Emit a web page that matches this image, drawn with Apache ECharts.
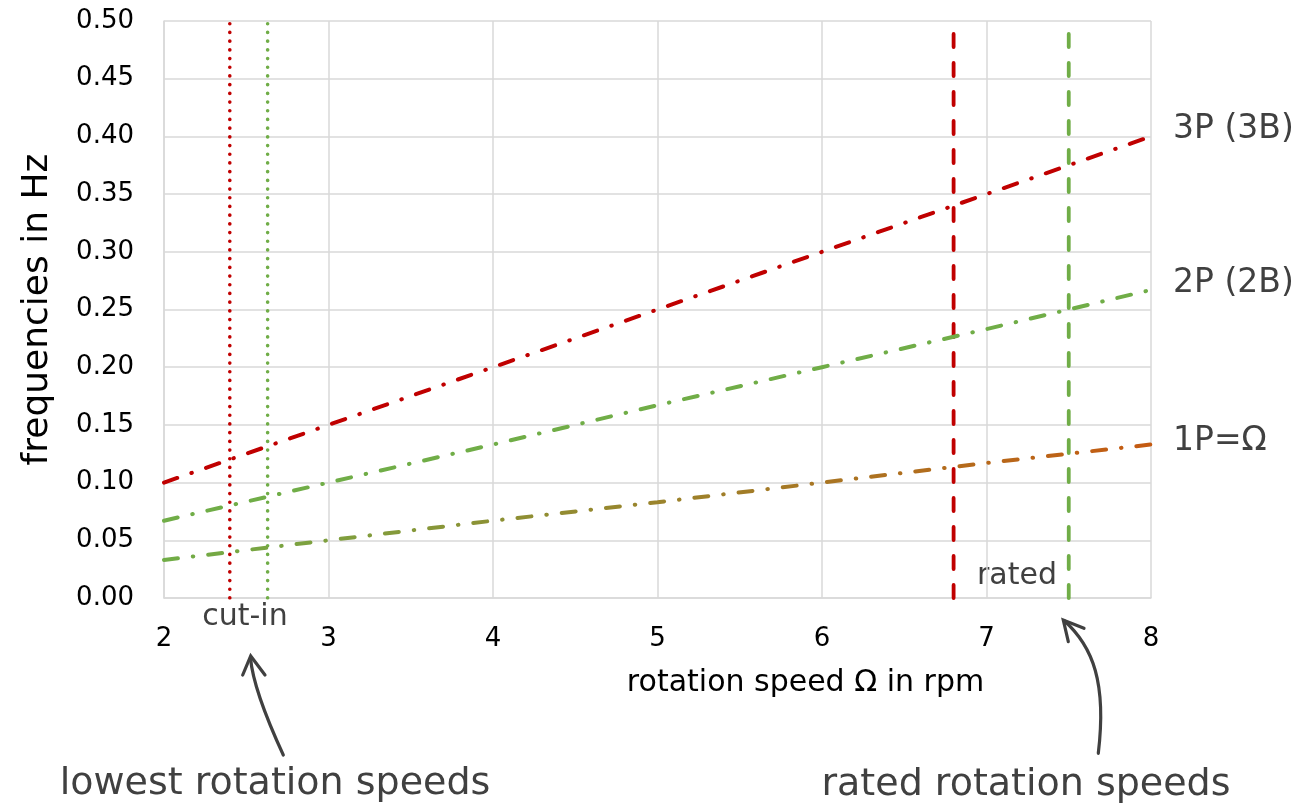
<!DOCTYPE html>
<html>
<head>
<meta charset="utf-8">
<script src="https://cdn.jsdelivr.net/npm/echarts@6/dist/echarts.min.js"></script>
<style>html,body{margin:0;padding:0;background:#fff}#c{width:1304px;height:810px}</style>
</head>
<body>
<div id="c"></div>
<script>
// rotation speed Omega in rpm
var speeds = [2, 3, 4, 5, 6, 7, 8];
// excitation frequencies in Hz
var freq1P = [0.033, 0.050, 0.067, 0.083, 0.100, 0.117, 0.133];
var freq2P = [0.067, 0.100, 0.133, 0.167, 0.200, 0.233, 0.267];
var freq3P = [0.100, 0.150, 0.200, 0.250, 0.300, 0.350, 0.400];
// characteristic speeds (rpm)
var cutIn3P = 2.4;
var cutIn2P = 2.63;
var rated3P = 6.8;
var rated2P = 7.5;
var yRange = [0, 0.5];
var seriesNames = ['1P=Ω', '2P (2B)', '3P (3B)'];

var RED = '#C00000', GREEN = '#70AD47', ORANGE = '#C55A11', TXT = '#404040';
var FONT = 'DejaVu Sans';

function pairs(xs, ys) { return xs.map(function (x, i) { return [x, ys[i]]; }); }
function vline(x) { return [[x, yRange[0]], [x, yRange[1]]]; }

var dashDot = [14, 15, 0.5, 15];

function curveSeries(name, data, color, labelOffset) {
  return {
    type: 'line', name: name, data: data, symbol: 'none', silent: true,
    lineStyle: { color: color, width: 4, type: dashDot, cap: 'round' },
    endLabel: {
      show: true, formatter: name, distance: 22, offset: labelOffset,
      color: TXT, fontFamily: FONT, fontSize: 33
    },
    z: 3
  };
}
function vSeries(name, x, color, dashed) {
  return {
    type: 'line', name: name, data: vline(x), symbol: 'none', silent: true,
    lineStyle: { color: color, width: dashed ? 3.8 : 3.6, type: dashed ? [13, 16] : [0.1, 8.6], cap: 'round' },
    z: 2
  };
}

var chart = echarts.init(document.getElementById('c'), null, { renderer: 'canvas' });
chart.setOption({
  animation: false,
  grid: { left: 164, right: 153, top: 21, bottom: 212 },
  xAxis: {
    type: 'value', min: 2, max: 8, interval: 1,
    name: 'rotation speed Ω in rpm', nameLocation: 'middle', nameGap: 70,
    nameTextStyle: { color: '#000', fontFamily: FONT, fontSize: 30, padding: [0, 0, 0, 296] },
    axisLine: { show: true, lineStyle: { color: '#d9d9d9', width: 1.5 } },
    axisTick: { show: false },
    axisLabel: { color: '#000', fontFamily: FONT, fontSize: 26, margin: 28 },
    splitLine: { show: true, lineStyle: { color: '#d9d9d9', width: 1.5 } }
  },
  yAxis: {
    type: 'value', min: 0, max: 0.5, interval: 0.05,
    name: 'frequencies in Hz', nameLocation: 'middle', nameGap: 108,
    nameTextStyle: { color: '#000', fontFamily: FONT, fontSize: 36 },
    axisLine: { show: true, lineStyle: { color: '#d9d9d9', width: 1.5 } },
    axisTick: { show: false },
    axisLabel: { color: '#000', fontFamily: FONT, fontSize: 26, margin: 30,
      formatter: function (v) { return v.toFixed(2); } },
    splitLine: { show: true, lineStyle: { color: '#d9d9d9', width: 1.5 } }
  },
  series: [
    vSeries('cut-in 3P', cutIn3P, RED, false),
    vSeries('cut-in 2P', cutIn2P, GREEN, false),
    vSeries('rated 3P', rated3P, RED, true),
    vSeries('rated 2P', rated2P, GREEN, true),
    curveSeries(seriesNames[2], pairs(speeds, freq3P), RED, [0, -7]),
    curveSeries(seriesNames[1], pairs(speeds, freq2P), GREEN, [0, -6]),
    curveSeries(seriesNames[0], pairs(speeds, freq1P),
      new echarts.graphic.LinearGradient(0, 0, 1, 0, [
        { offset: 0, color: GREEN }, { offset: 1, color: ORANGE }
      ]), [0, -3])
  ],
  graphic: [
    { type: 'text', x: 245, y: 617, style: { text: 'cut-in', fill: TXT, font: '30px "DejaVu Sans"', textAlign: 'center', textVerticalAlign: 'middle' } },
    { type: 'text', x: 1017, y: 576, style: { text: 'rated', fill: TXT, font: '30px "DejaVu Sans"', textAlign: 'center', textVerticalAlign: 'middle' } },
    { type: 'text', x: 275, y: 784, style: { text: 'lowest rotation speeds', fill: TXT, font: '38px "DejaVu Sans"', textAlign: 'center', textVerticalAlign: 'middle' } },
    { type: 'text', x: 1026, y: 785, style: { text: 'rated rotation speeds', fill: TXT, font: '38px "DejaVu Sans"', textAlign: 'center', textVerticalAlign: 'middle' } },
    { type: 'bezierCurve', shape: { x1: 283.3, y1: 755, cpx1: 253.3, cpy1: 690, x2: 250.5, y2: 658 },
      style: { stroke: TXT, lineWidth: 3.2, fill: null, lineCap: 'round' } },
    { type: 'polyline', shape: { points: [[242.7, 675], [250.7, 656], [265, 675]] },
      style: { stroke: TXT, lineWidth: 3.2, fill: null, lineCap: 'round', lineJoin: 'miter' } },
    { type: 'bezierCurve', shape: { x1: 1098.3, y1: 753.3, cpx1: 1106.7, cpy1: 683.3, cpx2: 1093.3, cpy2: 646.7, x2: 1064, y2: 620.5 },
      style: { stroke: TXT, lineWidth: 3.2, fill: null, lineCap: 'round' } },
    { type: 'polyline', shape: { points: [[1068.3, 641.7], [1063.3, 620], [1084, 628.3]] },
      style: { stroke: TXT, lineWidth: 3.2, fill: null, lineCap: 'round', lineJoin: 'miter' } }
  ]
});
</script>
</body>
</html>
